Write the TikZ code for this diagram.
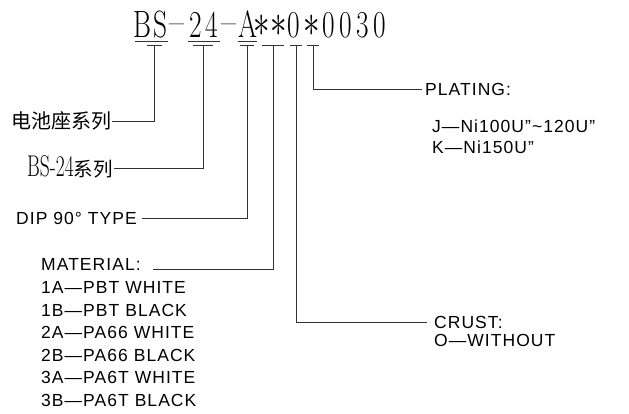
\documentclass[tikz,border=0pt]{standalone}
\usepackage{fontspec}
\newfontfamily\cjk{Noto Sans CJK SC}
\newfontfamily\cad[LetterSpace=6]{Liberation Sans}
\tikzset{
  lead/.style={draw=black!80, line width=0.9pt},
  cadtext/.style={inner sep=0pt, anchor=base west, font=\cad\fontsize{17.5}{22.5}\selectfont},
  titlech/.style={inner sep=0pt, anchor=base, font=\fontsize{38}{40}\selectfont},
}
\newcommand{\tch}[1]{\scalebox{0.72}[1]{#1}}
\newcommand{\tdash}{\raisebox{3.5pt}{\scalebox{0.85}[1]{–}}}
\newcommand{\tast}{\makebox[12pt][c]{\raisebox{1.5pt}{\scalebox{3.3}[4.6]{\fontsize{10}{12}\selectfont$\ast$}}}}
\begin{document}
\begin{tikzpicture}[x=1pt,y=-1pt]
\useasboundingbox[fill=white] (0,0) rectangle (629,414);
% title characters
\node[titlech] (c1) at (142.5,38) {\tch{B}};
\node[titlech] (c2) at (160,38) {\tch{S}};
\node[titlech] (c3) at (177,38) {\tdash};
\node[titlech] (c4) at (195.5,38) {\tch{2}};
\node[titlech] (c5) at (212,38) {\tch{4}};
\node[titlech] (c6) at (229,38) {\tdash};
\node[titlech] (c7) at (247.5,38) {\tch{A}};
\node[titlech] (c8) at (262,38) {\tast};
\node[titlech] (c9) at (279,38) {\tast};
\node[titlech] (c10) at (294,38) {\tch{0}};
\node[titlech] (c11) at (312,38) {\tast};
\node[titlech] (c12) at (329,38) {\tch{0}};
\node[titlech] (c13) at (346,38) {\tch{0}};
\node[titlech] (c14) at (363,38) {\tch{3}};
\node[titlech] (c15) at (380,38) {\tch{0}};
% underlines
\draw[lead] (135,41.5) -- (168,41.5);
\draw[lead] (188,41.5) -- (220,41.5);
\draw[lead] (238,41.5) -- (257,41.5);
% tick points
\coordinate (t1) at (154,45);
\coordinate (t2) at (203,45);
\coordinate (t3) at (247,45);
\coordinate (t4) at (273,45);
\coordinate (t5) at (296,45);
\coordinate (t6) at (313,45);
\draw[lead] ([xshift=-7.5pt]t1) -- ([xshift=7.5pt]t1);
\draw[lead] ([xshift=-10pt]t2) -- ([xshift=10pt]t2);
\draw[lead] ([xshift=-7pt]t3) -- ([xshift=7pt]t3);
\draw[lead] ([xshift=-11pt]t4) -- ([xshift=11pt]t4);
\draw[lead] ([xshift=-6pt]t5) -- ([xshift=6pt]t5);
\draw[lead] ([xshift=-6pt]t6) -- ([xshift=6pt]t6);
% labels
\node[inner sep=0pt, anchor=west, font=\cjk\fontsize{20}{22}\selectfont] (cn) at (11,121) {电池座系列};
\node[inner sep=0pt, anchor=west] (bs) at (27,167) {{\fontsize{30}{32}\selectfont\scalebox{0.65}[1]{BS-24}}{\cjk\fontsize{19.5}{22}\selectfont 系列}};
\node[cadtext] (dip) at (16,224.5) {DIP 90° TYPE};
\node[cadtext] (mat) at (41,270.5) {MATERIAL:};
\node[cadtext] (m1) at (41,293.5) {1A—PBT WHITE};
\node[cadtext] (m2) at (41,316) {1B—PBT BLACK};
\node[cadtext] (m3) at (41,338.5) {2A—PA66 WHITE};
\node[cadtext] (m4) at (41,361) {2B—PA66 BLACK};
\node[cadtext] (m5) at (41,383.5) {3A—PA6T WHITE};
\node[cadtext] (m6) at (41,406) {3B—PA6T BLACK};
\node[cadtext] (plat) at (425,95.5) {PLATING:};
\node[cadtext] (p1) at (432,132.5) {J—Ni100U”\char"007E 120U”};
\node[cadtext] (p2) at (432,153.5) {K—Ni150U”};
\node[cadtext] (crust) at (434,328.5) {CRUST:};
\node[cadtext] (cr1) at (434,346.5) {O—WITHOUT};
% connectors
\draw[lead] (t1) |- ([xshift=1pt]cn.east);
\draw[lead] (t2) |- ([xshift=1pt,yshift=-1pt]bs.east);
\draw[lead] (t3) |- ([xshift=5pt]dip.east);
\draw[lead] (t4) |- ([xshift=12pt,yshift=1.5pt]mat.base east);
\draw[lead] (t5) |- ([xshift=-7pt]crust.west);
\draw[lead] (t6) |- ([xshift=-3pt]plat.west);
\end{tikzpicture}
\end{document}
